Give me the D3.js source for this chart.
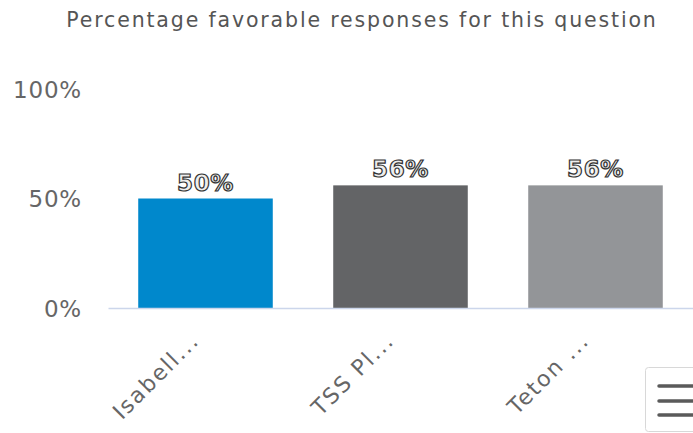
<!DOCTYPE html>
<html>
<head>
<meta charset="utf-8">
<script src="https://cdn.jsdelivr.net/npm/d3@7"></script>
<style>
html,body{margin:0;padding:0;background:#fff;}
svg{display:block;}
</style>
</head>
<body>
<svg id="chart" width="693" height="433"></svg>
<script>
const title = "Percentage favorable responses for this question";
const categories = ["Isabell...", "TSS Pl...", "Teton ..."];
const values = [50, 56, 56];
const colors = ["#0088cc", "#636466", "#939598"];
const yTicks = [0, 50, 100];

const svg = d3.select("#chart");
const font = "'DejaVu Sans', Verdana, sans-serif";

const x = d3.scaleBand().domain(categories).range([108, 693])
  .paddingInner(0.31).paddingOuter(0.155);
const y = d3.scaleLinear().domain([0, 100]).range([308, 89]);

// title
svg.append("text").attr("x", 362).attr("y", 27)
  .attr("text-anchor", "middle").attr("font-family", font)
  .attr("font-size", 20.5).attr("fill", "#555").attr("letter-spacing", 1.85)
  .text(title);

// y axis labels
const yAxis = d3.axisLeft(y).tickValues(yTicks).tickFormat(d => d + "%").tickSize(0).tickPadding(0);
const gy = svg.append("g").attr("transform", "translate(82,0)").call(yAxis);
gy.select(".domain").remove();
gy.selectAll("text").attr("font-family", font).attr("font-size", 23)
  .attr("fill", "#666").attr("dy", "0.36em").attr("letter-spacing", 0.8);

// bars
svg.selectAll("rect.bar").data(values).join("rect").attr("class", "bar")
  .attr("x", (d, i) => x(categories[i]))
  .attr("width", x.bandwidth())
  .attr("y", d => y(d))
  .attr("height", d => y(0) - y(d))
  .attr("fill", (d, i) => colors[i]);

// x axis
const xAxis = d3.axisBottom(x).tickSize(0).tickPadding(0);
const gx = svg.append("g").attr("transform", "translate(0,308)").call(xAxis);
gx.select(".domain").attr("stroke", "#ccd6eb").attr("stroke-width", 1.5);
gx.selectAll("text").attr("font-family", font).attr("font-size", 22)
  .attr("fill", "#666").attr("text-anchor", "end")
  .attr("dy", null).attr("letter-spacing", 1.9)
  .attr("transform", "translate(-5,34) rotate(-45)");

// data labels
svg.selectAll("text.lbl").data(values).join("text").attr("class", "lbl")
  .attr("x", (d, i) => x(categories[i]) + x.bandwidth() / 2)
  .attr("y", d => y(d) - 8)
  .attr("text-anchor", "middle").attr("font-family", font)
  .attr("font-size", 23).attr("font-weight", "bold").attr("letter-spacing", 0.6)
  .attr("fill", "#eeeeee").attr("stroke", "#333").attr("stroke-width", 1.2)
  .text(d => d + "%");

// menu button
const mb = svg.append("g");
mb.append("rect").attr("x", 645.5).attr("y", 367.5).attr("width", 60).attr("height", 64)
  .attr("rx", 3).attr("fill", "#fff").attr("stroke", "#d8d8d8");
[386, 401, 415].forEach(yy => {
  mb.append("line").attr("x1", 659).attr("x2", 700).attr("y1", yy).attr("y2", yy)
    .attr("stroke", "#5a5a5a").attr("stroke-width", 3.5).attr("stroke-linecap", "round");
});
</script>
</body>
</html>
